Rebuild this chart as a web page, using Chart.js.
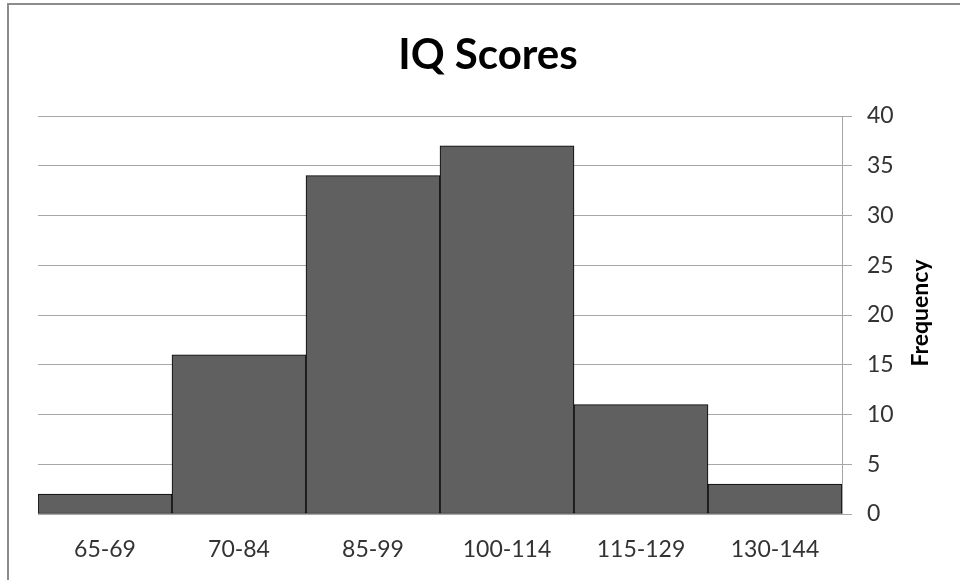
<!DOCTYPE html>
<html>
<head>
<meta charset="utf-8">
<script src="https://cdn.jsdelivr.net/npm/chart.js@4"></script>
<style>
  html, body { margin: 0; padding: 0; background: #fff; overflow: hidden; }
  #wrap { position: relative; width: 960px; height: 580px; }
  #frame { position: absolute; left: 7px; top: 3px; width: 1000px; height: 1000px; border: 2px solid #8c8c8c; box-sizing: border-box; }
  canvas { position: absolute; left: 0; top: 0; }
</style>
</head>
<body>
<div id="wrap">
  <div id="frame"></div>
  <canvas id="c" width="960" height="580"></canvas>
</div>
<script>
const chartTitle = 'IQ Scores';
const axisTitle = 'Frequency';
const categories = ['65-69', '70-84', '85-99', '100-114', '115-129', '130-144'];
const frequencies = [2, 16, 34, 37, 11, 3];
const yMin = 0, yMax = 40, yStep = 5;

const FONT = 'Lato, "Open Sans", sans-serif';

const rightTitlePlugin = {
  id: 'rightTitle',
  afterDraw(chart) {
    const ctx = chart.ctx;
    const y = chart.scales.y;
    ctx.save();
    ctx.translate(921, (y.top + y.bottom) / 2 - 2);
    ctx.rotate(-Math.PI / 2);
    ctx.font = 'bold 23px ' + FONT;
    ctx.fillStyle = '#000';
    ctx.textAlign = 'center';
    ctx.textBaseline = 'middle';
    ctx.fillText(axisTitle, 0, 0);
    ctx.restore();
  }
};

new Chart(document.getElementById('c'), {
  type: 'bar',
  data: {
    labels: categories,
    datasets: [{
      data: frequencies,
      backgroundColor: '#606060',
      borderColor: '#000000',
      borderWidth: 1,
      borderSkipped: false,
      barPercentage: 1,
      categoryPercentage: 1
    }]
  },
  options: {
    responsive: false,
    animation: false,
    devicePixelRatio: 1,
    layout: { padding: { left: 38, right: 22, top: 0, bottom: 0 } },
    plugins: {
      legend: { display: false },
      tooltip: { enabled: false },
      title: {
        display: true,
        text: chartTitle,
        color: '#000',
        font: { family: FONT, size: 42, weight: 'bold' },
        padding: { top: 30, bottom: 35.6 }
      }
    },
    scales: {
      x: {
        grid: { display: false, drawTicks: false },
        border: { display: true, color: '#a6a6a6', width: 1 },
        ticks: { color: '#333', font: { family: FONT, size: 23 }, padding: 22, maxRotation: 0 },
        afterFit(s) { s.height = 66; }
      },
      y: {
        position: 'right',
        min: yMin,
        max: yMax,
        grid: { color: '#a6a6a6', lineWidth: 1, drawTicks: true, tickLength: 10 },
        border: { display: true, color: '#a6a6a6', width: 1 },
        ticks: { stepSize: yStep, color: '#333', font: { family: FONT, size: 23 }, padding: 15 },
        afterFit(s) { s.width = 96; }
      }
    }
  },
  plugins: [rightTitlePlugin]
});
</script>
</body>
</html>
